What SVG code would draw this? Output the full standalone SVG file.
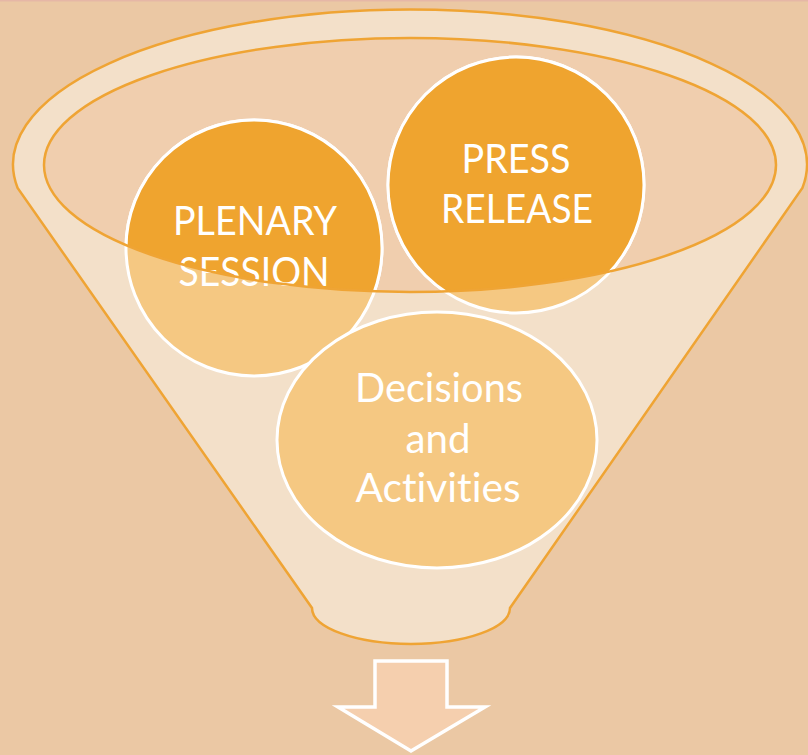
<svg xmlns="http://www.w3.org/2000/svg" width="808" height="755" viewBox="0 0 808 755">
  <defs>
    <style>
      .bg { fill: #EBC8A4; }
      .funnel { fill: #F3E0C9; stroke: #EFA434; stroke-width: 2.5; }
      .inner { fill: #F0CEAE; }
      .innerEdge { fill: none; stroke: #EFA434; stroke-width: 2.5; }
      .light { fill: #F5C882; stroke: #FFFFFF; stroke-width: 3; }
      .dark { fill: #EFA42F; stroke: #FFFFFF; stroke-width: 3; }
      .lbl { font-family: Lato, "Open Sans", "Liberation Sans", sans-serif; font-size: 40px; fill: #FFFFFF; text-anchor: middle; font-variant-ligatures: none; font-feature-settings: "liga" 0; }
      .arrow { fill: #F5CFAE; stroke: #FFFFFF; stroke-width: 3.5; }
    </style>
    <clipPath id="innerClip">
      <ellipse cx="410" cy="165" rx="366" ry="127"/>
    </clipPath>
  </defs>

  <rect class="bg" x="0" y="0" width="808" height="755"/>
  <rect x="0" y="0" width="808" height="1.5" fill="#E6B7A6"/>

  <g id="funnel">
    <path class="funnel" d="M 17.6 188 A 397 155 0 1 1 802.4 188 L 510 608 A 99 36 0 0 1 312 608 Z"/>
    <ellipse class="inner" cx="410" cy="165" rx="366" ry="127"/>
  </g>

  <g id="node-plenary">
    <circle class="light" cx="254" cy="248" r="128"/>
    <circle class="dark" cx="254" cy="248" r="128" clip-path="url(#innerClip)"/>
    <text class="lbl" x="255" y="235" textLength="164" lengthAdjust="spacingAndGlyphs">PLENARY</text>
    <text class="lbl" x="254" y="286" textLength="151" lengthAdjust="spacingAndGlyphs">SESSION</text>
  </g>

  <g id="node-press">
    <circle class="light" cx="516" cy="185" r="128"/>
    <circle class="dark" cx="516" cy="185" r="128" clip-path="url(#innerClip)"/>
    <text class="lbl" x="516" y="173" textLength="109" lengthAdjust="spacingAndGlyphs">PRESS</text>
    <text class="lbl" x="517" y="223" textLength="152" lengthAdjust="spacingAndGlyphs">RELEASE</text>
  </g>

  <g id="node-decisions">
    <ellipse class="light" cx="437" cy="440" rx="160" ry="128"/>
    <text class="lbl" x="439" y="402" textLength="168" lengthAdjust="spacingAndGlyphs">Decisions</text>
    <text class="lbl" x="438" y="453" textLength="65" lengthAdjust="spacingAndGlyphs">and</text>
    <text class="lbl" x="438" y="502" textLength="165" lengthAdjust="spacingAndGlyphs">Activities</text>
  </g>

  <g id="funnel-rim">
    <ellipse class="innerEdge" cx="410" cy="165" rx="366" ry="127"/>
  </g>

  <g id="connectors">
    <path class="arrow" d="M 375 661 L 447 661 L 447 707 L 485 707 L 411 751 L 338 707 L 375 707 Z"/>
  </g>
</svg>
